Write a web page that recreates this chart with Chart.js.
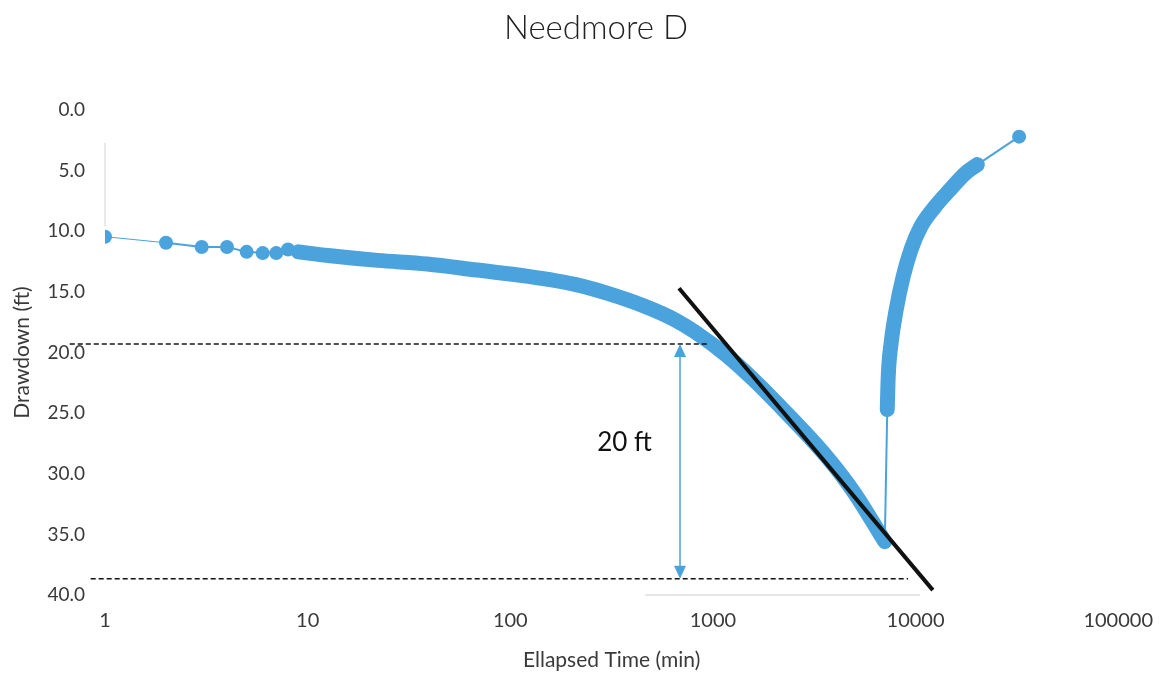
<!DOCTYPE html>
<html>
<head>
<meta charset="utf-8">
<title>Needmore D</title>
<script src="https://cdn.jsdelivr.net/npm/chart.js@4.4.1/dist/chart.umd.min.js"></script>
<style>
  html, body { margin: 0; padding: 0; background: #fff; }
  #wrap { position: relative; width: 1167px; height: 674px; }
  #title { position: absolute; left: 0; width: 1192px; top: 6px; text-align: center;
           font: 300 33px Lato, "Open Sans", sans-serif; color: #222; line-height: 40px; }
  canvas { display: block; }
</style>
</head>
<body>
<div id="wrap">
  <canvas id="chart" width="1167" height="674"></canvas>
  <div id="title">Needmore D</div>
</div>
<script>
// early readings (separate markers)
const earlyTime = [1, 2, 3, 4, 5, 6, 7, 8, 9];
const earlyDD   = [10.45, 10.95, 11.3, 11.3, 11.7, 11.8, 11.8, 11.5, 11.7];

// pumping period (dense logger readings -> solid band)
const pumpTime = [9, 12.6, 22.2, 38.9, 68.4, 120, 211, 300, 464, 650, 815, 1181, 1600, 2075, 3645, 5000, 7050];
const pumpDD   = [11.7, 12.0, 12.4, 12.7, 13.2, 13.7, 14.4, 15.1, 16.2, 17.3, 18.3, 20.3, 22.3, 24.2, 28.6, 31.6, 35.6];

// recovery after pump off
const recTime = [7250, 7330, 7580, 8020, 8670, 9500, 10630, 12440, 14730, 17650, 20180];
const recDD   = [24.7, 22.0, 19.2, 16.5, 13.8, 11.5, 9.6, 8.0, 6.6, 5.2, 4.5];

// last reading
const finalTime = [32430];
const finalDD   = [2.2];

// straight-line fit
const trendTime = [680, 12170];
const trendDD   = [14.7, 39.6];

// 20 ft per log cycle construction
const refTopTime = [0.67, 943];
const refTopDD   = 19.3;
const refBotTime = [0.85, 9180];
const refBotDD   = 38.65;
const arrowTime  = 688;
const labelTime  = 366;
const labelDD    = 27.4;
const labelText  = '20 ft';

// faint leftovers in the scan
const stubTime  = [1, 1];
const stubDD    = [2.7, 9.6];
const floorTime = [464, 10510];
const floorDD   = [40, 40];

// axes
const xTicks = [1, 10, 100, 1000, 10000, 100000];
const yTicks = [0, 5, 10, 15, 20, 25, 30, 35, 40];

const blue = '#4ba3dd';
const font = 'Lato, "Open Sans", sans-serif';

const pts = (ts, ys) => ts.map((t, i) => ({ x: t, y: Array.isArray(ys) ? ys[i] : ys }));

// arrow + label drawn on scale coordinates
const notes = {
  id: 'notes',
  afterDatasetsDraw(chart) {
    const { ctx, scales: { x, y } } = chart;
    const ax = x.getPixelForValue(arrowTime);
    const y0 = y.getPixelForValue(refTopDD);
    const y1 = y.getPixelForValue(refBotDD);
    ctx.save();
    ctx.strokeStyle = blue;
    ctx.fillStyle = blue;
    ctx.lineWidth = 1.5;
    ctx.beginPath();
    ctx.moveTo(ax, y0 + 10);
    ctx.lineTo(ax, y1 - 10);
    ctx.stroke();
    ctx.beginPath();
    ctx.moveTo(ax, y0); ctx.lineTo(ax - 6, y0 + 13); ctx.lineTo(ax + 6, y0 + 13); ctx.closePath();
    ctx.fill();
    ctx.beginPath();
    ctx.moveTo(ax, y1); ctx.lineTo(ax - 6, y1 - 13); ctx.lineTo(ax + 6, y1 - 13); ctx.closePath();
    ctx.fill();
    ctx.fillStyle = '#111';
    ctx.font = '26px ' + font;
    ctx.textAlign = 'center';
    ctx.textBaseline = 'middle';
    ctx.fillText(labelText, x.getPixelForValue(labelTime), y.getPixelForValue(labelDD));
    ctx.restore();
  }
};

const thin = { borderColor: blue, backgroundColor: blue, borderWidth: 2, pointRadius: 0, clip: false };
const band = { borderColor: blue, borderWidth: 15, pointRadius: 0, borderCapStyle: 'round',
               borderJoinStyle: 'round', cubicInterpolationMode: 'monotone', order: 3 };

new Chart(document.getElementById('chart'), {
  type: 'line',
  data: {
    datasets: [
      // dashed reference lines (on top)
      { data: pts(refTopTime, refTopDD), borderColor: '#111', borderWidth: 1.5, borderDash: [5, 3], pointRadius: 0, clip: false, order: 0 },
      { data: pts(refBotTime, refBotDD), borderColor: '#111', borderWidth: 1.5, borderDash: [5, 3], pointRadius: 0, clip: false, order: 0 },
      // fitted line
      { data: pts(trendTime, trendDD), borderColor: '#111', borderWidth: 4, pointRadius: 0, clip: false, order: 1 },
      // early points with markers
      { data: pts(earlyTime, earlyDD), borderColor: blue, backgroundColor: blue, borderWidth: 2,
        pointRadius: 7, pointBorderWidth: 0, order: 2,
        segment: { borderWidth: c => c.p0DataIndex === 0 ? 0 : 2 } },
      // pumping and recovery bands
      { ...band, data: pts(pumpTime, pumpDD) },
      { ...band, data: pts(recTime, recDD) },
      // connectors
      { ...thin, data: [pts(pumpTime, pumpDD).pop(), pts(recTime, recDD)[0]], order: 4 },
      { ...thin, data: [pts(recTime, recDD).pop(), ...pts(finalTime, finalDD)], order: 4,
        pointRadius: c => c.dataIndex === 1 ? 7 : 0, pointBorderWidth: 0 },
      // faint scan leftovers
      { data: pts(stubTime, stubDD), borderColor: '#e2e2e2', borderWidth: 1.5, pointRadius: 0, clip: false, order: 5 },
      { data: pts(floorTime, floorDD), borderColor: '#e6e6e6', borderWidth: 2, pointRadius: 0, clip: false, order: 5 }
    ]
  },
  options: {
    responsive: false,
    animation: false,
    events: [],
    layout: { padding: { left: 0, right: 40, top: 110, bottom: 0 } },
    plugins: {
      legend: { display: false },
      tooltip: { enabled: false },
      title: { display: false }
    },
    scales: {
      x: {
        type: 'logarithmic',
        min: 1,
        max: 100000,
        grid: { display: false, drawTicks: false },
        border: { display: false },
        afterBuildTicks: s => { s.ticks = xTicks.map(v => ({ value: v })); },
        afterFit: s => { s.height = 79; },
        ticks: {
          autoSkip: false, maxRotation: 0, padding: 14,
          color: '#3a3a3a', font: { family: font, size: 20 },
          callback: v => String(v)
        },
        title: {
          display: true, text: 'Ellapsed Time (min)', color: '#3a3a3a',
          font: { family: font, size: 21 }, padding: { top: 0, bottom: 1.5 }
        }
      },
      y: {
        type: 'linear',
        reverse: true,
        min: 0,
        max: 40,
        grid: { display: false, drawTicks: false },
        border: { display: false },
        afterBuildTicks: s => { s.ticks = yTicks.map(v => ({ value: v })); },
        afterFit: s => { s.width = 105; },
        ticks: {
          padding: 20, color: '#3a3a3a', font: { family: font, size: 19 },
          callback: v => v.toFixed(1)
        },
        title: {
          display: true, text: 'Drawdown (ft)', color: '#3a3a3a',
          font: { family: font, size: 21 }, padding: { top: 9.4, bottom: 0 }
        }
      }
    }
  },
  plugins: [notes]
});
</script>
</body>
</html>
